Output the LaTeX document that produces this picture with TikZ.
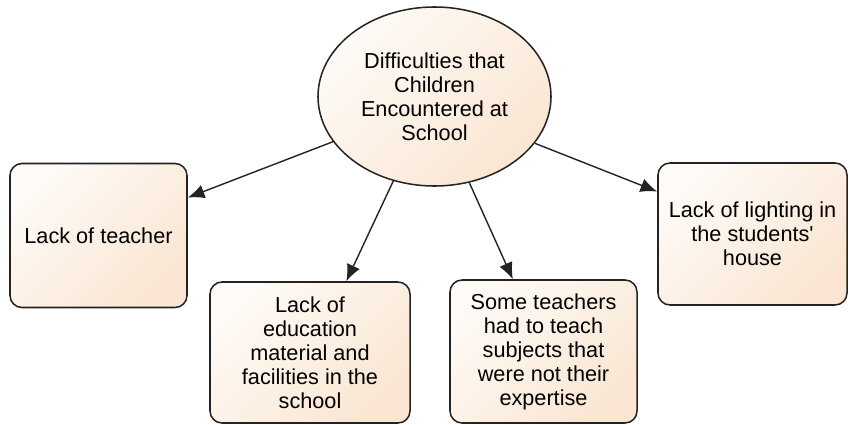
\documentclass[tikz,border=0pt]{standalone}
\usepackage{fontspec}
\setmainfont{Liberation Sans}
\usepackage{xcolor}
\usepackage{tikz}
\usetikzlibrary{arrows.meta, shapes.geometric}
\definecolor{PeachLight}{RGB}{254, 250, 246}
\definecolor{PeachDeep}{RGB}{250, 230, 210}
\definecolor{EdgeGray}{RGB}{35, 35, 35}

\begin{document}
\begin{tikzpicture}[x=0.03cm, y=-0.03cm,
    causebox/.style={draw=EdgeGray, line width=1.3pt, rounded corners=0.36cm,
      top color=PeachLight, bottom color=PeachDeep, shading angle=45,
      align=center, inner sep=0pt, font=\fontsize{18.5}{20.5}\selectfont},
    topic/.style={causebox, ellipse, rounded corners=0pt},
    link/.style={draw=EdgeGray, line width=1.2pt, -{Latex[length=0.5cm, width=0.42cm]}}]
  \useasboundingbox (0,0) rectangle (850,424);
  \node[topic, minimum width=6.99cm, minimum height=5.37cm] (diff) at (434.5,96.5)
    {Difficulties that\\Children\\Encountered at\\School};
  \node[causebox, minimum width=5.31cm, minimum height=4.32cm] (teacher) at (98.5,235.5)
    {Lack of teacher};
  \node[causebox, minimum width=6cm, minimum height=4.23cm] (material) at (310,352.5)
    {Lack of\\education\\material and\\facilities in the\\school};
  \node[causebox, minimum width=5.61cm, minimum height=4.29cm] (expert) at (543.5,351.5)
    {Some teachers\\had to teach\\subjects that\\were not their\\expertise};
  \node[causebox, minimum width=5.67cm, minimum height=4.26cm] (light) at (752.5,234)
    {Lack of lighting in\\the students\textquotesingle\\house};
  \draw[link] (diff.204) -- (teacher.23);
  \draw[link] (diff.244) -- (material.63);
  \draw[link] (diff.292) -- (expert.113);
  \draw[link] (diff.335) -- (light.156);
\end{tikzpicture}
\end{document}
